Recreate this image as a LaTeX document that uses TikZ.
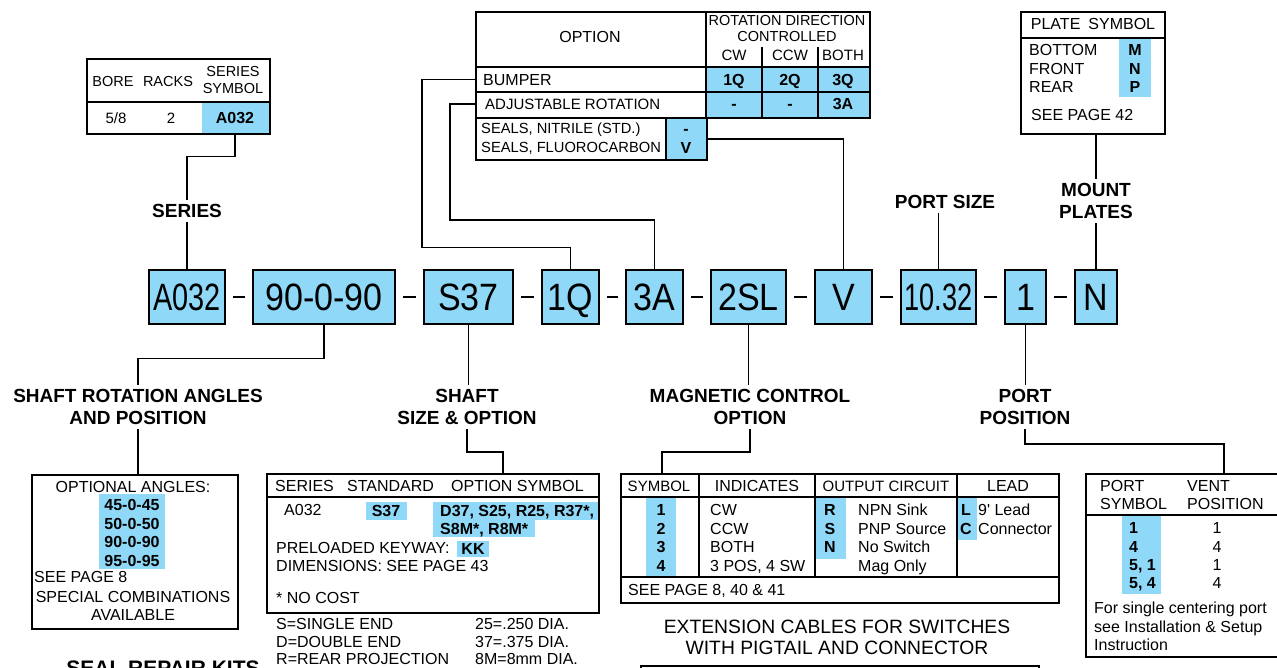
\documentclass[tikz,border=0pt]{standalone}
\usepackage{fontspec}
\setmainfont{Liberation Sans}
\usetikzlibrary{positioning}
\definecolor{bleu}{RGB}{143,216,247}
\newcommand{\cod}[2]{\scalebox{#1}[1.12]{#2}}
\begin{document}
\begin{tikzpicture}[x=1pt, y=-1pt]
	\tikzset{code/.style={draw, fill=bleu, line width=1.5pt, minimum height=54pt, inner sep=0pt, text height=27.3pt, text depth=0pt, font=\fontsize{34}{34}\selectfont},
		titre/.style={align=center, inner sep=4pt, font=\fontsize{19}{22}\selectfont\bfseries},
		texte/.style={inner sep=0pt, text height=11.5pt, text depth=0pt, font=\fontsize{16}{18.5}\selectfont},
		gras/.style={inner sep=0pt, text height=11.4pt, text depth=0pt, font=\fontsize{16}{18.5}\selectfont\bfseries},
		bloc/.style={inner sep=0pt, font=\fontsize{16}{18}\selectfont},
		cadre/.style={draw, line width=1.6pt, inner sep=0pt},
		trait/.style={line width=1.3pt},
		lien/.style={line width=1.4pt}};
	\useasboundingbox (0,0) rectangle (1277,667);
	\clip (0,0) rectangle (1277,667);

	% code
	\node[code, minimum width=76pt] (serie) at (187,297) {\cod{0.85}{A032}};
	\node[code, minimum width=142pt] (angles) at (324,297) {\cod{1}{90-0-90}};
	\node[code, minimum width=89pt] (arbre) at (468.5,297) {\cod{1}{S37}};
	\node[code, minimum width=57pt] (butee) at (570.5,297) {\cod{1}{1Q}};
	\node[code, minimum width=57pt] (reglage) at (654.5,297) {\cod{1}{3A}};
	\node[code, minimum width=75pt] (capteur) at (748.5,297) {\cod{1}{2SL}};
	\node[code, minimum width=57pt] (joint) at (843.5,297) {\cod{1}{V}};
	\node[code, minimum width=75pt] (taille) at (938.5,297) {\cod{0.8}{10.32}};
	\node[code, minimum width=41pt] (pos) at (1025.5,297) {\cod{1}{1}};
	\node[code, minimum width=42pt] (plaque) at (1096,297) {\cod{1}{N}};
	\foreach \a/\b in {serie/angles, angles/arbre, arbre/butee, butee/reglage, reglage/capteur, capteur/joint, joint/taille, taille/pos, pos/plaque}
		\draw[trait] ([xshift=7pt]\a.east) -- ([xshift=-7pt]\b.west);

	% serie
	\fill[bleu] (202,102) rectangle (269,133);
	\node[cadre, anchor=north west, minimum width=183pt, minimum height=75pt] (tabserie) at (86,58) {};
	\draw[trait] (86,102) -- (269,102);
	\node[texte, font=\fontsize{14.5}{17}\selectfont] at (113,81) {BORE};
	\node[texte, font=\fontsize{14.5}{17}\selectfont] at (168,81) {RACKS};
	\node[bloc, align=center, font=\fontsize{14.5}{17}\selectfont] at (233,80.5) {SERIES\\SYMBOL};
	\node[texte, font=\fontsize{15}{17}\selectfont] at (116,118) {5/8};
	\node[texte, font=\fontsize{15}{17}\selectfont] at (171,118) {2};
	\node[gras] (cserie) at (235,118) {A032};
	\node[titre] (tserie) at (187,211) {SERIES};
	\draw[lien] (tabserie.south -| cserie) -- ++(0,22) -| (tserie.north);
	\draw[lien] (tserie.south) -- (serie.north);

	% options
	\fill[bleu] (706,67) rectangle (869,117);
	\fill[bleu] (666,117) rectangle (706,159);
	\node[cadre, anchor=north west, minimum width=394pt, minimum height=106pt] (taboption) at (475,11) {};
	\node[cadre, anchor=north west, minimum width=231pt, minimum height=42pt] (tabjoint) at (475,117) {};
	\draw[trait] (475,67) -- (869,67);
	\draw[trait] (475,92) -- (869,92);
	\draw[trait] (706,11) -- (706,117);
	\draw[trait] (762,47) -- (762,117);
	\draw[trait] (818,47) -- (818,117);
	\draw[trait] (666,117) -- (666,159);
	\node[texte] at (590,37) {OPTION};
	\node[bloc, align=center, font=\fontsize{14.5}{16}\selectfont] at (787,29) {ROTATION DIRECTION\\CONTROLLED};
	\node[texte, font=\fontsize{15}{17}\selectfont] at (734,55) {CW};
	\node[texte, font=\fontsize{15}{17}\selectfont] at (790,55) {CCW};
	\node[texte, font=\fontsize{15}{17}\selectfont] at (843,55) {BOTH};
	\node[texte, anchor=west] (bumper) at (483,79.5) {BUMPER};
	\node[texte, anchor=west, font=\fontsize{15}{17}\selectfont] (adjust) at (485,104) {ADJUSTABLE ROTATION};
	\foreach \x/\t in {734/1Q, 790/2Q, 843/3Q} \node[gras] at (\x,79.5) {\t};
	\foreach \x/\t in {734/-, 790/-, 843/3A} \node[gras] at (\x,104) {\t};
	\node[bloc, anchor=west, align=left, font=\fontsize{14.7}{19}\selectfont] at (481,138.5) {SEALS, NITRILE (STD.)\\SEALS, FLUOROCARBON};
	\node[gras] at (686,128.5) {-};
	\node[gras] at (686,148) {V};
	\draw[lien] (taboption.west |- bumper) -- ++(-53,0) -- ++(0,168) -| (butee.north);
	\draw[lien] (taboption.west |- adjust) -- ++(-25,0) -- ++(0,116) -| (reglage.north);
	\draw[lien] (tabjoint.east) -| (joint.north);

	% plaques
	\fill[bleu] (1119,39) rectangle (1151,97);
	\node[cadre, anchor=north west, minimum width=144pt, minimum height=122pt] (tabplaque) at (1020,11) {};
	\draw[trait] (1020,38) -- (1164,38);
	\node[texte] at (1093,24) {PLATE\enspace SYMBOL};
	\foreach \y/\p/\s in {50/BOTTOM/M, 68.5/FRONT/N, 87/REAR/P} {
		\node[texte, anchor=west] at (1029,\y) {\p};
		\node[gras] at (1135,\y) {\s};
	}
	\node[texte, anchor=west] at (1031,115) {SEE PAGE 42};
	\node[titre] (tplaque) at (1096,201) {MOUNT\\PLATES};
	\draw[lien] (tabplaque.south -| tplaque) -- (tplaque.north);
	\draw[lien] (tplaque.south) -- (plaque.north);

	\node[titre] (tport) at (945,202) {PORT SIZE};
	\draw[lien] (taille.north) -- (taille.north |- tport.south);

	% titres du bas
	\node[titre] (tangle) at (138,407) {SHAFT ROTATION ANGLES\\AND POSITION};
	\node[titre] (tarbre) at (467,407) {SHAFT\\SIZE \& OPTION};
	\node[titre] (tmag) at (750,407) {MAGNETIC CONTROL\\OPTION};
	\node[titre] (tpos) at (1025,407) {PORT\\POSITION};

	% angles
	\fill[bleu] (99,494) rectangle (165,569);
	\node[cadre, anchor=north west, minimum width=206pt, minimum height=154pt] (tabangles) at (31,474) {};
	\node[texte] at (133,487) {OPTIONAL ANGLES:};
	\foreach \y/\a in {505/45-0-45, 523.5/50-0-50, 542/90-0-90, 560.5/95-0-95}
		\node[gras] at (132,\y) {\a};
	\node[texte, anchor=west] at (34,577) {SEE PAGE 8};
	\node[texte] at (133,597) {SPECIAL COMBINATIONS};
	\node[texte] at (133,615) {AVAILABLE};
	\draw[lien] (angles.south) -- ++(0,34) -| (tangle.north);
	\draw[lien] (tangle.south) -- (tangle.south |- tabangles.north);

	% arbre
	\fill[bleu] (366,502) rectangle (407,520);
	\fill[bleu] (433,502) rectangle (598,520);
	\fill[bleu] (433,519) rectangle (535,537);
	\fill[bleu] (457,541) rectangle (489,557);
	\node[cadre, anchor=north west, minimum width=332pt, minimum height=139pt] (tabarbre) at (266,473) {};
	\draw[trait] (266,497) -- (598,497);
	\node[texte, anchor=west] at (275,486) {SERIES};
	\node[texte, anchor=west] at (347,486) {STANDARD};
	\node[texte, anchor=west] at (451,486) {OPTION SYMBOL};
	\node[texte, anchor=west] at (284,510) {A032};
	\node[gras] at (386,511) {S37};
	\node[gras, anchor=west] at (440,511) {D37, S25, R25, R37*,};
	\node[gras, anchor=west] at (440,529) {S8M*, R8M*};
	\node[texte, anchor=west] at (276,548) {PRELOADED KEYWAY:};
	\node[gras] at (473,549) {KK};
	\node[texte, anchor=west] at (276,566) {DIMENSIONS: SEE PAGE 43};
	\node[texte, anchor=west] at (276,598) {* NO COST};
	\foreach \y/\g/\d in {624/S=SINGLE END/25=.250 DIA., 642/D=DOUBLE END/37=.375 DIA., 659/R=REAR PROJECTION/8M=8mm DIA.} {
		\node[texte, anchor=west] at (276,\y) {\g};
		\node[texte, anchor=west] at (475,\y) {\d};
	}
	\draw[lien] (arbre.south) -- (arbre.south |- tarbre.north);
	\draw[lien] (tarbre.south) -- ++(0,23) -| ([xshift=70pt]tabarbre.north);

	% capteur
	\fill[bleu] (646,497) rectangle (676,577);
	\fill[bleu] (816,497) rectangle (846,559);
	\fill[bleu] (957,497) rectangle (977,540);
	\node[cadre, anchor=north west, minimum width=438pt, minimum height=129pt] (tabmag) at (620,473) {};
	\draw[trait] (620,497) -- (1058,497);
	\draw[trait] (620,577) -- (1058,577);
	\foreach \x in {699,815,957} \draw[trait] (\x,473) -- (\x,577);
	\node[texte, font=\fontsize{15}{17}\selectfont] at (659,486) {SYMBOL};
	\node[texte] at (757,486) {INDICATES};
	\node[texte, font=\fontsize{15}{17}\selectfont] at (886,486) {OUTPUT CIRCUIT};
	\node[texte] at (1008,486) {LEAD};
	\foreach \y/\n/\i/\o in {510/1/CW/NPN Sink, 528.5/2/CCW/PNP Source, 547/3/BOTH/No Switch, 565.5/4/{3 POS, 4 SW}/Mag Only} {
		\node[gras] at (661,\y) {\n};
		\node[texte, anchor=west] at (710,\y) {\i};
		\node[texte, anchor=west] at (858,\y) {\o};
	}
	\foreach \y/\c in {510/R, 528.5/S, 547/N} \node[gras] at (830,\y) {\c};
	\node[gras] at (966,510) {L};
	\node[gras] at (966,528.5) {C};
	\node[texte, anchor=west] at (978,510) {9\textquotesingle\ Lead};
	\node[texte, anchor=west] at (978,528.5) {Connector};
	\node[texte, anchor=west] at (628,590) {SEE PAGE 8, 40 \& 41};
	\draw[lien] (capteur.south) -- (capteur.south |- tmag.north);
	\draw[lien] (tmag.south) -- ++(0,23) -| ([xshift=-178pt]tabmag.north);

	% orifice
	\fill[bleu] (1122,515) rectangle (1161,594);
	\node[cadre, anchor=north west, minimum width=220pt, minimum height=183pt] (tabport) at (1085,473) {};
	\draw[trait] (1085,515) -- (1305,515);
	\node[bloc, anchor=west, align=left] at (1100,495) {PORT\\SYMBOL};
	\node[bloc, anchor=west, align=left] at (1187,495) {VENT\\POSITION};
	\foreach \y/\p/\v in {528/1/1, 546.5/4/4, 564.5/{5, 1}/1, 582.5/{5, 4}/4} {
		\node[gras, anchor=west] at (1129,\y) {\p};
		\node[texte] at (1217,\y) {\v};
	}
	\node[texte, anchor=west] at (1094,608) {For single centering port};
	\node[texte, anchor=west] at (1094,626.5) {see Installation \& Setup};
	\node[texte, anchor=west] at (1094,645) {Instruction};
	\draw[lien] (pos.south) -- (pos.south |- tpos.north);
	\draw[lien] (tpos.south) -- ++(0,15) -| ([xshift=28pt]tabport.north);

	% bas de page
	\node[bloc, align=center, font=\fontsize{19.3}{21}\selectfont] at (837,637.5) {EXTENSION CABLES FOR SWITCHES\\WITH PIGTAIL AND CONNECTOR};
	\node[cadre, anchor=north west, minimum width=398pt, minimum height=40pt] (tabcable) at (640,665) {};
	\node[titre, font=\fontsize{21}{24}\selectfont\bfseries] at (163,668) {SEAL REPAIR KITS};
\end{tikzpicture}
\end{document}
